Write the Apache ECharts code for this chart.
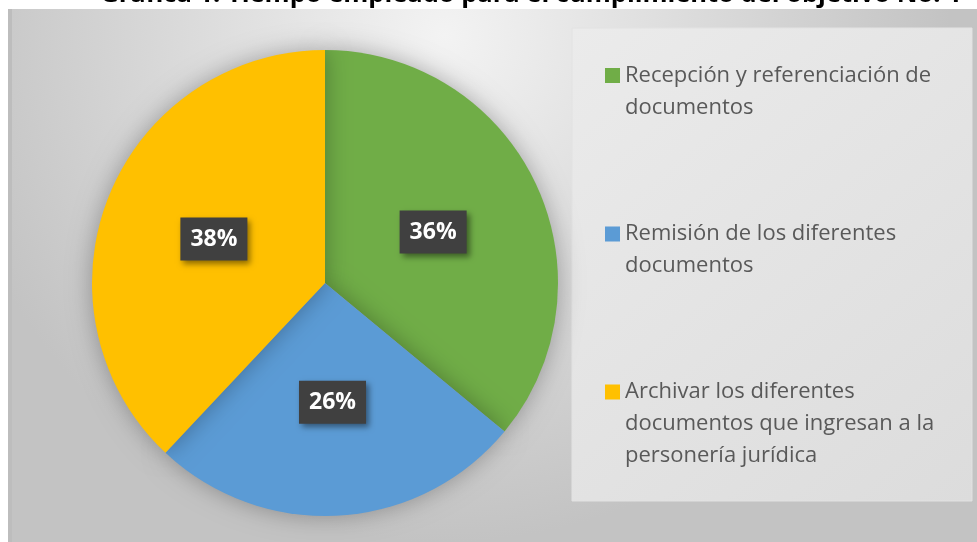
<!DOCTYPE html>
<html>
<head>
<meta charset="utf-8">
<style>
  html, body { margin: 0; padding: 0; background: #fff; }
  #chart { width: 977px; height: 542px; }
</style>
<script src="https://cdn.jsdelivr.net/npm/echarts@6/dist/echarts.min.js"></script>
</head>
<body>
<div id="chart"></div>
<script>
var titleText = 'Gráfica 1. Tiempo empleado para el cumplimiento del objetivo No. 1';
var categories = [
    'Recepción y referenciación de documentos',
    'Remisión de los diferentes documentos',
    'Archivar los diferentes documentos que ingresan a la personería jurídica'
];
// how the legend text breaks into lines
var legendLines = [
    ['Recepción y referenciación de', 'documentos'],
    ['Remisión de los diferentes', 'documentos'],
    ['Archivar los diferentes', 'documentos que ingresan a la', 'personería jurídica']
];
var values = [36, 26, 38];
var colors = ['#70AD47', '#5B9BD5', '#FFC000'];

var chart = echarts.init(document.getElementById('chart'));
var lineH = 32;
var iconCenters = [75.5, 234, 392];

// legend text is centred on the icon, so pad with empty lines above
// to get the icon in line with the first row
var legends = categories.map(function (name, i) {
    var n = legendLines[i].length;
    var pad = [];
    for (var k = 0; k < n - 1; k++) pad.push(' ');
    return {
        data: [name],
        orient: 'vertical',
        left: 605,
        top: iconCenters[i] - (2 * n - 1) * lineH / 2,
        padding: 0,
        icon: 'rect',
        itemWidth: 15,
        itemHeight: 15,
        itemGap: 6,
        selectedMode: false,
        formatter: function () {
            return pad.concat(legendLines[i]).join('\n');
        },
        textStyle: {
            fontFamily: 'Open Sans',
            fontSize: 22,
            color: '#595959',
            lineHeight: lineH
        }
    };
});

var option = {
    backgroundColor: '#ffffff',
    color: colors,
    title: {
        text: titleText,
        left: 526,
        textAlign: 'center',
        top: -23,
        textStyle: {
            fontFamily: 'Open Sans',
            fontSize: 25.5,
            fontWeight: 'bold',
            color: '#000000'
        }
    },
    graphic: [{
        type: 'rect',
        shape: { x: 8, y: 9, width: 969, height: 533 },
        style: {
            fill: {
                type: 'radial', x: 0.45, y: 0.05, r: 0.95,
                colorStops: [
                    { offset: 0, color: '#f3f3f3' },
                    { offset: 1, color: '#c3c3c3' }
                ]
            }
        }
    }, {
        type: 'rect',
        shape: { x: 8, y: 9, width: 4, height: 533 },
        style: { fill: '#bdbdbd' }
    }, {
        type: 'rect',
        shape: { x: 572, y: 28, width: 400, height: 473 },
        style: {
            fill: {
                type: 'linear', x: 0, y: 0, x2: 1, y2: 1,
                colorStops: [
                    { offset: 0, color: '#ebebeb' },
                    { offset: 1, color: '#dcdcdc' }
                ]
            },
            stroke: '#e2e2e2',
            lineWidth: 1
        }
    }],
    legend: legends,
    series: [{
        type: 'pie',
        center: [325, 283],
        radius: [0, 233],
        startAngle: 90,
        clockwise: true,
        silent: true,
        itemStyle: {
            shadowBlur: 25,
            shadowColor: 'rgba(0,0,0,0.3)'
        },
        label: {
            show: true,
            position: 'inside',
            formatter: '{c}%',
            fontFamily: 'Open Sans',
            fontSize: 23,
            fontWeight: 'bold',
            color: '#ffffff',
            backgroundColor: '#404040',
            padding: [8, 10, 7, 10],
            lineHeight: 28,
            shadowBlur: 6,
            shadowColor: 'rgba(0,0,0,0.45)',
            shadowOffsetX: 3,
            shadowOffsetY: 3
        },
        labelLine: { show: false },
        data: categories.map(function (name, i) {
            return { name: name, value: values[i] };
        })
    }]
};

chart.setOption(option);
</script>
</body>
</html>
